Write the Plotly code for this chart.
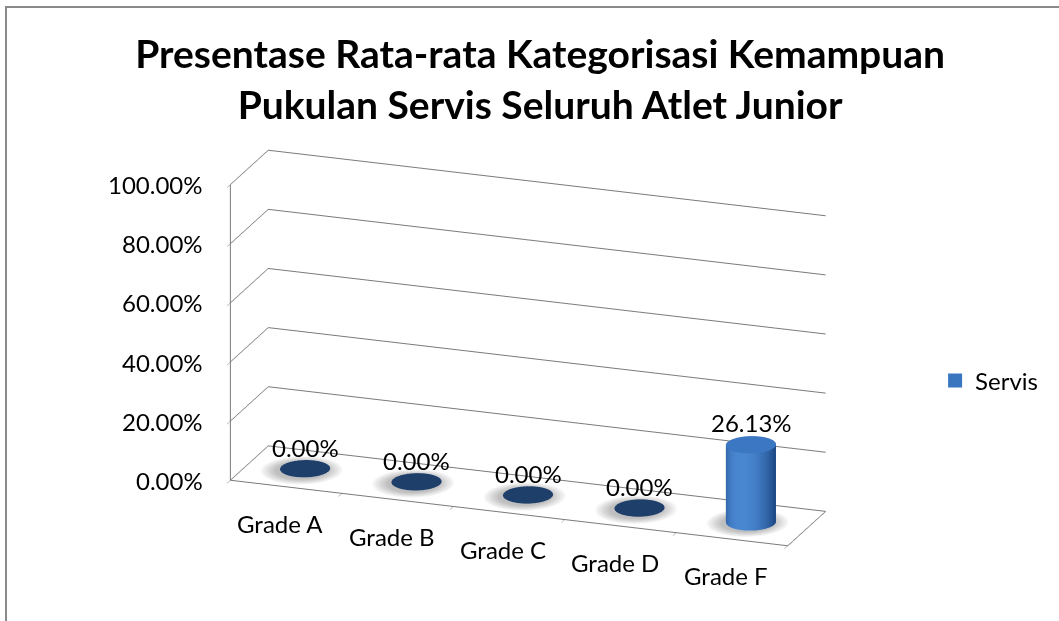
import numpy as np
import plotly.graph_objects as go

# ---- data ----
categories = ["Grade A", "Grade B", "Grade C", "Grade D", "Grade F"]
values = [0.0, 0.0, 0.0, 0.0, 0.2613]
series_name = "Servis"
z_ticks = [0.0, 0.2, 0.4, 0.6, 0.8, 1.0]
title_lines = ["Presentase Rata-rata Kategorisasi Kemampuan",
               "Pukulan Servis Seluruh Atlet Junior"]

# ---- style ----
FONT = "Lato"
GRID = "#7a7a7a"
SIDE_DARK = np.array([0x1f, 0x4b, 0x88])
SIDE_LIGHT = np.array([0x4a, 0x88, 0xd2])
TOP_COLOR = "#3b77c2"
ZERO_COLOR = "#1f3f6b"
RX, RY = 0.21, 0.24          # cylinder radius in x (category) / y (depth) units
DEPTH_C = 0.5
NSEG = 60

eye_dir = np.array([0.320, -0.889, 0.3265])
EYE_D = 2.5
SCALE = 2.17
aspect = dict(x=1.0 * SCALE, y=0.189 * SCALE, z=0.528 * SCALE)

view = eye_dir[:2] / np.linalg.norm(eye_dir[:2])
left = np.array([view[1], -view[0]])
hl = view + 0.35 * left
hl_ang = np.arctan2(hl[1], hl[0])


def hexc(c):
    c = np.clip(c, 0, 255).astype(int)
    return "#%02x%02x%02x" % tuple(c)


X, Y, Z, I, J, K, FC = [], [], [], [], [], [], []
t = np.linspace(0, 2 * np.pi, NSEG, endpoint=False)
shadow_scales = [1.62, 1.52, 1.42, 1.33, 1.24, 1.15, 1.07]
SHADOW_OP = 0.06
SH = [dict(x=[], y=[], z=[], i=[], j=[], k=[]) for _ in shadow_scales]
for ci, v in enumerate(values):
    cx = ci
    ring_x = cx + RX * np.cos(t)
    ring_y = DEPTH_C + RY * np.sin(t)
    zero = v <= 0
    ztop = v if not zero else 0.003
    base = len(X)
    if not zero:
        X += list(ring_x); Y += list(ring_y); Z += [0.0] * NSEG
        X += list(ring_x); Y += list(ring_y); Z += [ztop] * NSEG
        for s in range(NSEG):
            a, b = s, (s + 1) % NSEG
            ang = (t[a] + (t[b] if b else 2 * np.pi)) / 2
            br = max(0.0, np.cos(ang - hl_ang))
            col = hexc(SIDE_DARK + (SIDE_LIGHT - SIDE_DARK) * br ** 1.2)
            I += [base + a, base + a]
            J += [base + b, base + NSEG + b]
            K += [base + NSEG + b, base + NSEG + a]
            FC += [col, col]
        base = len(X)
    X += list(ring_x); Y += list(ring_y); Z += [ztop] * NSEG
    X.append(cx); Y.append(DEPTH_C); Z.append(ztop)
    cen = base + NSEG
    capc = ZERO_COLOR if zero else TOP_COLOR
    for s in range(NSEG):
        a, b = s, (s + 1) % NSEG
        I.append(base + a); J.append(base + b); K.append(cen); FC.append(capc)
    # soft shadow (stacked translucent discs, shifted slightly to the front-left)
    for scl, sh in zip(shadow_scales, SH):
        sb = len(sh["x"])
        sh["x"] += list(cx - 0.02 + RX * scl * np.cos(t))
        sh["y"] += list(DEPTH_C - 0.03 + RY * scl * np.sin(t))
        sh["z"] += [0.0] * NSEG
        sh["x"].append(cx - 0.02); sh["y"].append(DEPTH_C - 0.03); sh["z"].append(0.0)
        for s in range(NSEG):
            sh["i"].append(sb + s); sh["j"].append(sb + (s + 1) % NSEG); sh["k"].append(sb + NSEG)

fig = go.Figure()
for sh in SH:
    fig.add_trace(go.Mesh3d(**sh, color="#4a4a4a", opacity=SHADOW_OP, flatshading=True,
                            lighting=dict(ambient=1, diffuse=0, specular=0),
                            hoverinfo="skip", showlegend=False))
fig.add_trace(go.Mesh3d(x=X, y=Y, z=Z, i=I, j=J, k=K, facecolor=FC, flatshading=True,
                        lighting=dict(ambient=1, diffuse=0, specular=0, fresnel=0),
                        name=series_name, showlegend=False, hoverinfo="skip"))
fig.add_trace(go.Scatter3d(x=[None], y=[None], z=[None], mode="markers", name=series_name,
                           marker=dict(symbol="square", size=14, color="#3a75c0"),
                           showlegend=True))

n = len(categories)
annotations = []
for tv in z_ticks:
    annotations.append(dict(x=-0.5, y=0, z=tv, text=f"{tv:.2%}", showarrow=False,
                            xanchor="right", yanchor="middle", xshift=-26,
                            font=dict(family=FONT, size=24, color="black")))
for ci, cat in enumerate(categories):
    annotations.append(dict(x=ci, y=0, z=0, text=cat, showarrow=False,
                            xanchor="center", yanchor="top", yshift=-20, xshift=-6,
                            font=dict(family=FONT, size=24, color="black")))
for ci, v in enumerate(values):
    annotations.append(dict(x=ci, y=DEPTH_C, z=v, text=f"{v:.2%}", showarrow=False,
                            xanchor="center", yanchor="bottom", yshift=6,
                            font=dict(family=FONT, size=24, color="black")))

axis_common = dict(showbackground=False, showspikes=False, title=dict(text=""),
                   zeroline=False)
boundary_ticks = [k - 0.5 for k in range(n + 1)]
fig.update_layout(
    width=1059, height=621,
    margin=dict(l=0, r=0, t=0, b=0),
    paper_bgcolor="white",
    font=dict(family=FONT, color="black"),
    title=dict(text="<br>".join(title_lines), x=0.51, xanchor="center", xref="container",
               y=1 - 68 / 621, yanchor="middle", yref="container",
               font=dict(family=FONT, size=39, weight="bold", color="black")),
    legend=dict(x=0.883, y=1 - 381 / 621, xanchor="left", yanchor="middle",
                font=dict(family=FONT, size=24), bgcolor="rgba(0,0,0,0)"),
    scene=dict(
        domain=dict(x=[0.005, 0.9924], y=[0.0, 0.879]),
        aspectmode="manual", aspectratio=aspect,
        camera=dict(eye=dict(x=eye_dir[0] * EYE_D, y=eye_dir[1] * EYE_D, z=eye_dir[2] * EYE_D),
                    up=dict(x=0, y=0, z=1), center=dict(x=0, y=0, z=0),
                    projection=dict(type="orthographic")),
        xaxis=dict(axis_common, range=[-0.5, n - 0.5],
                   tickvals=boundary_ticks, ticktext=[" "] * len(boundary_ticks),
                   showticklabels=True, tickfont=dict(size=10, color="rgba(0,0,0,0)"),
                   showgrid=False, showline=True, linecolor=GRID, linewidth=2,
                   ticks="outside", ticklen=8, tickcolor=GRID),
        yaxis=dict(axis_common, range=[0, 1], showgrid=False, showticklabels=False,
                   showline=True, linecolor=GRID, linewidth=2, ticks=""),
        zaxis=dict(axis_common, range=[0, 1], tickvals=z_ticks, showticklabels=False,
                   showgrid=True, gridcolor=GRID, gridwidth=2,
                   showline=True, linecolor=GRID, linewidth=2, ticks="outside",
                   ticklen=6, tickcolor=GRID),
        annotations=annotations,
    ),
    shapes=[dict(type="rect", xref="paper", yref="paper", x0=6 / 1059, x1=1.05,
                 y0=-0.05, y1=1 - 7 / 621, line=dict(color="#8a8a8a", width=2),
                 fillcolor="rgba(0,0,0,0)", layer="above")],
)

fig.write_html("out.html", config={"displayModeBar": False},
               post_script="document.body.style.margin='0';document.body.style.padding='0';")
